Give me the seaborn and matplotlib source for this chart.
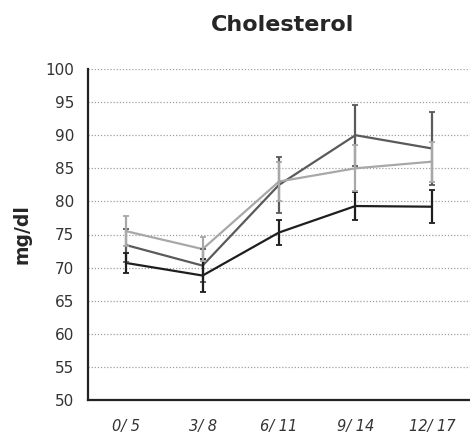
import numpy as np
import pandas as pd
import matplotlib
matplotlib.use("Agg")
import matplotlib.pyplot as plt
import seaborn as sns

categories = ["0/ 5", "3/ 8", "6/ 11", "9/ 14", "12/ 17"]
series_a = [73.4, 70.3, 82.5, 90.0, 88.0]
series_b = [70.7, 68.8, 75.3, 79.3, 79.2]
series_c = [75.5, 72.8, 83.0, 85.0, 86.0]
err_a = [2.5, 2.5, 4.2, 4.6, 5.5]
err_b = [1.5, 2.5, 1.9, 2.1, 2.5]
err_c = [2.3, 1.8, 3.0, 3.5, 3.0]
y_ticks = [50, 55, 60, 65, 70, 75, 80, 85, 90, 95, 100]

sns.set_theme(style="white")
plt.rcParams['font.family'] = ['DejaVu Sans']

names = ["A", "B", "C"]
vals = [series_a, series_b, series_c]
errs = [err_a, err_b, err_c]
colors = {"A": "#5a5a5a", "B": "#1e1e1e", "C": "#a8a8a8"}

rows = []
for n, v, e in zip(names, vals, errs):
    for i, (c, y, s) in enumerate(zip(categories, v, e)):
        rows.append({"cat": c, "x": i, "series": n, "value": y, "err": s})
df = pd.DataFrame(rows)

fig = plt.figure(figsize=(4.70, 4.42), dpi=100)
ax = fig.add_axes([88/470, 1 - 400/442, (470 - 88)/470, (400 - 69)/442])

for yv in y_ticks:
    ax.axhline(yv, color="#a0a0a0", linestyle=(0, (1, 1.5)), linewidth=0.9, zorder=0)

sns.lineplot(data=df, x="x", y="value", hue="series", palette=colors,
             linewidth=1.6, legend=False, ax=ax, zorder=3)
for n in names:
    sub = df[df.series == n]
    ax.errorbar(sub["x"], sub["value"], yerr=sub["err"], fmt="none",
                ecolor=colors[n], elinewidth=1.6, capsize=2.5, capthick=1.3, zorder=4)

ax.set_xlim(-0.5, 4.5)
ax.set_ylim(50, 100)
ax.set_yticks(y_ticks)
ax.set_yticklabels([str(t) for t in y_ticks], fontsize=11, color="#333333")
ax.set_xticks(range(len(categories)))
ax.set_xticklabels(categories, fontsize=10.5, color="#333333", style="italic")
ax.set_xticks([0.5, 1.5, 2.5, 3.5], minor=True)
ax.tick_params(axis="x", which="major", length=0, pad=14)
ax.tick_params(axis="x", which="minor", length=4, width=1.2, color="#222222", direction="out")
ax.tick_params(axis="y", which="major", length=4, width=1.2, color="#222222", direction="inout", pad=8)

for s in ["top", "right"]:
    ax.spines[s].set_visible(False)
for s in ["left", "bottom"]:
    ax.spines[s].set_color("#222222")
    ax.spines[s].set_linewidth(1.6)

ax.set_xlabel("")
ax.set_ylabel("mg/dl", fontsize=13.5, fontweight="bold", labelpad=10)
fig.text(283/470, 1 - 25/442, "Cholesterol", ha="center", va="center",
         fontsize=16, fontweight="bold")

fig.savefig("out.png", dpi=100, facecolor="white")
